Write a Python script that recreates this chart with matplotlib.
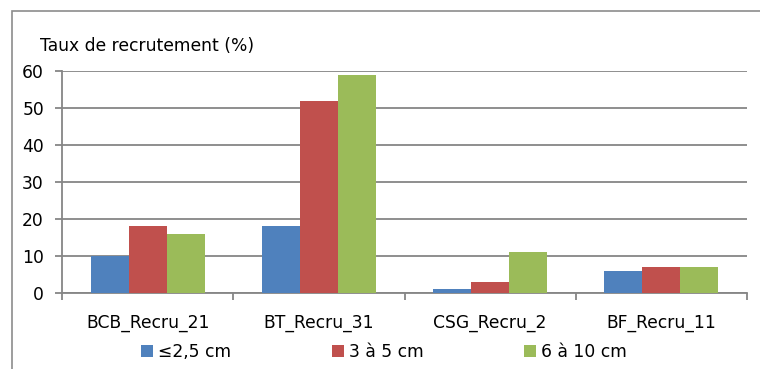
import matplotlib
matplotlib.use("Agg")
import matplotlib.pyplot as plt
from matplotlib.patches import Rectangle
import numpy as np

categories = ["BCB_Recru_21", "BT_Recru_31", "CSG_Recru_2", "BF_Recru_11"]
series_names = ["≤2,5 cm", "3 à 5 cm", "6 à 10 cm"]
small = [10, 18, 1, 6]
medium = [18, 52, 3, 7]
large = [16, 59, 11, 7]
yticks = [0, 10, 20, 30, 40, 50, 60]
colors = ["#4F81BD", "#C0504D", "#9BBB59"]
grid_col = "#868686"
fs = 12.3

W, H = 760, 369
fig = plt.figure(figsize=(W / 100, H / 100), dpi=100)
plt.rcParams["font.family"] = ["DejaVu Sans"]

# outer chart frame (extends past right/bottom edges)
fig.patches.append(Rectangle((12 / W, -0.1), 1.2, 1.1 - 11 / H,
                             transform=fig.transFigure, fill=False,
                             edgecolor="#8C8C8C", linewidth=1.2))

left, right, top, bottom = 62, 747, 71, 293
ax = fig.add_axes([left / W, 1 - bottom / H, (right - left) / W, (bottom - top) / H])

x = np.arange(len(categories))
bw = 0.222
for i, (vals, name) in enumerate(zip([small, medium, large], series_names)):
    ax.bar(x + (i - 1) * bw, vals, width=bw, color=colors[i], label=name,
           zorder=3, linewidth=0)

ax.set_xlim(-0.5, len(categories) - 0.5)
ax.set_ylim(0, 60)
ax.set_yticks(yticks)
ax.set_yticklabels([str(t) for t in yticks], fontsize=fs)
ax.yaxis.grid(True, color=grid_col, linewidth=1.3, zorder=0)
ax.set_axisbelow(True)

ax.set_xticks(x)
ax.set_xticklabels(categories, fontsize=fs)
ax.tick_params(axis="x", length=0, pad=15)
ax.set_xticks(np.arange(len(categories) + 1) - 0.5, minor=True)
ax.tick_params(axis="x", which="minor", length=5, color=grid_col, width=1.3)
ax.tick_params(axis="y", length=5, color=grid_col, width=1.3, pad=8)

for s in ["top", "right"]:
    ax.spines[s].set_visible(False)
ax.spines["left"].set_color(grid_col)
ax.spines["left"].set_linewidth(1.3)
ax.spines["bottom"].set_color(grid_col)
ax.spines["bottom"].set_linewidth(1.3)

fig.text(40 / W, 1 - 46 / H, "Taux de recrutement (%)", fontsize=fs,
         va="center", ha="left")

fig.legend(loc="center", bbox_to_anchor=(384 / W, 1 - 352 / H), ncol=3,
           frameon=False, fontsize=fs, handlelength=0.7, handleheight=0.7,
           handletextpad=0.3, columnspacing=5.9)

fig.savefig("out.png", dpi=100)
